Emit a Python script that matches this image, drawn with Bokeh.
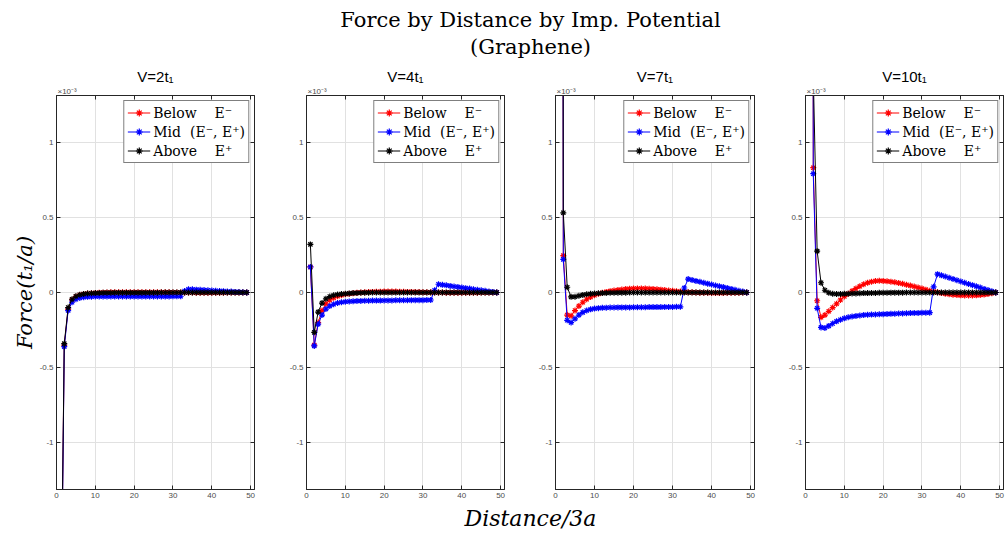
import math
from bokeh.plotting import figure
from bokeh.models import Range1d, Label, Legend, LegendItem, LinearAxis, FixedTicker, Title
from bokeh.layouts import column, row
from bokeh.embed import file_html
from bokeh.resources import INLINE

# ---------------- data (force values in units of 1e-3 t1/a) ----------------
distance = [1, 2, 3, 4, 5, 6, 7, 8, 9, 10,
            11, 12, 13, 14, 15, 16, 17, 18, 19, 20,
            21, 22, 23, 24, 25, 26, 27, 28, 29, 30,
            31, 32, 33, 34, 35, 36, 37, 38, 39, 40,
            41, 42, 43, 44, 45, 46, 47, 48, 49]

panel_titles = ["V=2t\u2081", "V=4t\u2081", "V=7t\u2081", "V=10t\u2081"]
series_labels = ["Below    E\u207b", "Mid  (E\u207b, E\u207a)", "Above    E\u207a"]
x_ticks = [0, 10, 20, 30, 40, 50]
y_ticks = [-1, -0.5, 0, 0.5, 1]
y_tick_labels = ["-1", "-0.5", "0", "0.5", "1"]

below_v2 = [-2.60, -0.350, -0.110, -0.050, -0.028, -0.017, -0.011, -0.007, -0.005, -0.003,
            -0.002, -0.001, 0.000, 0.001, 0.001, 0.002, 0.002, 0.002, 0.002, 0.002,
            0.002, 0.002, 0.002, 0.001, 0.001, 0.001, 0.001, 0.001, 0.001, 0.000,
            0.000, 0.000, 0.000, 0.000, 0.000, -0.001, -0.001, -0.001, -0.001, -0.001,
            -0.001, -0.001, -0.001, 0.000, 0.000, 0.000, 0.000, 0.000, 0.000]
mid_v2 = [-2.70, -0.360, -0.120, -0.065, -0.045, -0.036, -0.031, -0.029, -0.028, -0.027,
          -0.027, -0.026, -0.026, -0.026, -0.026, -0.026, -0.026, -0.026, -0.026, -0.026,
          -0.026, -0.026, -0.026, -0.026, -0.026, -0.026, -0.026, -0.026, -0.026, -0.025,
          -0.025, -0.025, 0.010, 0.022, 0.021, 0.019, 0.018, 0.016, 0.015, 0.013,
          0.012, 0.010, 0.009, 0.007, 0.006, 0.004, 0.003, 0.001, 0.000]
above_v2 = [-2.55, -0.340, -0.100, -0.045, -0.025, -0.015, -0.010, -0.007, -0.005, -0.004,
            -0.003, -0.002, -0.002, -0.002, -0.001, -0.001, -0.001, -0.001, -0.001, -0.001,
            -0.001, -0.001, -0.001, -0.001, -0.001, -0.001, 0.000, 0.000, 0.000, 0.000,
            0.000, 0.000, 0.000, 0.000, 0.000, 0.000, 0.000, 0.000, 0.000, 0.000,
            0.000, 0.000, 0.000, 0.000, 0.000, 0.000, 0.000, 0.000, 0.000]

below_v4 = [0.170, -0.350, -0.200, -0.120, -0.075, -0.050, -0.035, -0.025, -0.018, -0.012,
            -0.008, -0.005, -0.002, 0.000, 0.002, 0.003, 0.004, 0.005, 0.005, 0.006,
            0.006, 0.006, 0.006, 0.005, 0.005, 0.004, 0.004, 0.003, 0.003, 0.002,
            0.002, 0.001, 0.001, 0.000, 0.000, -0.001, -0.001, -0.001, -0.001, -0.001,
            -0.001, -0.001, -0.001, -0.001, 0.000, 0.000, 0.000, 0.000, 0.000]
mid_v4 = [0.170, -0.355, -0.210, -0.150, -0.110, -0.090, -0.078, -0.070, -0.065, -0.062,
          -0.060, -0.058, -0.057, -0.056, -0.055, -0.055, -0.054, -0.054, -0.054, -0.053,
          -0.053, -0.053, -0.052, -0.052, -0.052, -0.052, -0.051, -0.051, -0.051, -0.051,
          -0.050, -0.050, 0.015, 0.055, 0.051, 0.048, 0.044, 0.040, 0.037, 0.033,
          0.029, 0.026, 0.022, 0.018, 0.015, 0.011, 0.007, 0.004, 0.000]
above_v4 = [0.320, -0.265, -0.130, -0.070, -0.042, -0.027, -0.018, -0.013, -0.010, -0.008,
            -0.006, -0.004, -0.003, -0.002, -0.001, -0.001, 0.000, 0.000, 0.000, 0.000,
            0.000, 0.000, 0.000, 0.000, 0.000, 0.000, 0.000, 0.000, 0.000, 0.000,
            0.000, 0.000, 0.000, 0.000, 0.000, 0.000, 0.000, 0.000, 0.000, 0.000,
            0.000, 0.000, 0.000, 0.000, 0.000, 0.000, 0.000, 0.000, 0.000]

below_v7 = [25.0, 0.245, -0.150, -0.155, -0.120, -0.090, -0.065, -0.045, -0.030, -0.018,
            -0.009, -0.002, 0.004, 0.009, 0.013, 0.017, 0.020, 0.023, 0.025, 0.026,
            0.027, 0.027, 0.026, 0.025, 0.023, 0.021, 0.019, 0.016, 0.013, 0.011,
            0.008, 0.006, 0.004, 0.002, 0.001, 0.000, -0.001, -0.002, -0.002, -0.003,
            -0.003, -0.003, -0.003, -0.002, -0.002, -0.001, -0.001, 0.000, 0.000]
mid_v7 = [25.0, 0.220, -0.185, -0.200, -0.175, -0.150, -0.132, -0.120, -0.112, -0.107,
          -0.104, -0.102, -0.101, -0.100, -0.100, -0.099, -0.099, -0.099, -0.099, -0.098,
          -0.098, -0.098, -0.098, -0.097, -0.097, -0.097, -0.097, -0.096, -0.096, -0.096,
          -0.095, -0.095, 0.030, 0.089, 0.083, 0.077, 0.071, 0.065, 0.059, 0.053,
          0.047, 0.042, 0.036, 0.030, 0.024, 0.018, 0.012, 0.006, 0.000]
above_v7 = [28.0, 0.530, 0.035, -0.029, -0.028, -0.022, -0.016, -0.012, -0.009, -0.007,
            -0.005, -0.004, -0.003, -0.002, -0.002, -0.001, -0.001, -0.001, 0.000, 0.000,
            0.000, 0.000, 0.000, 0.000, 0.000, 0.000, 0.000, 0.000, 0.000, 0.000,
            0.000, 0.000, 0.000, 0.000, 0.000, 0.000, 0.000, 0.000, 0.000, 0.000,
            0.000, 0.000, 0.000, 0.000, 0.000, 0.000, 0.000, 0.000, 0.000]

below_v10 = [30.0, 0.830, -0.055, -0.165, -0.150, -0.125, -0.100, -0.075, -0.050, -0.027,
             -0.008, 0.010, 0.027, 0.042, 0.055, 0.065, 0.072, 0.076, 0.078, 0.077,
             0.075, 0.072, 0.068, 0.063, 0.058, 0.052, 0.046, 0.040, 0.033, 0.026,
             0.019, 0.012, 0.006, 0.001, -0.004, -0.008, -0.012, -0.015, -0.017, -0.019,
             -0.020, -0.020, -0.020, -0.019, -0.017, -0.014, -0.010, -0.005, 0.000]
mid_v10 = [30.0, 0.790, -0.105, -0.232, -0.236, -0.222, -0.206, -0.192, -0.181, -0.172,
           -0.165, -0.160, -0.156, -0.153, -0.150, -0.148, -0.147, -0.146, -0.145, -0.144,
           -0.143, -0.142, -0.141, -0.140, -0.139, -0.138, -0.137, -0.136, -0.136, -0.135,
           -0.135, -0.134, 0.038, 0.122, 0.114, 0.106, 0.098, 0.090, 0.081, 0.073,
           0.065, 0.057, 0.049, 0.041, 0.033, 0.024, 0.016, 0.008, 0.000]
above_v10 = [32.0, 1.450, 0.275, 0.065, 0.015, -0.002, -0.008, -0.010, -0.010, -0.009,
             -0.008, -0.007, -0.006, -0.005, -0.004, -0.004, -0.003, -0.003, -0.002, -0.002,
             -0.002, -0.001, -0.001, -0.001, -0.001, 0.000, 0.000, 0.000, 0.000, 0.000,
             0.000, 0.000, 0.000, 0.000, 0.000, 0.000, 0.000, 0.000, 0.000, 0.000,
             0.000, 0.000, 0.000, 0.000, 0.000, 0.000, 0.000, 0.000, 0.000]

panels_data = [
    (below_v2, mid_v2, above_v2),
    (below_v4, mid_v4, above_v4),
    (below_v7, mid_v7, above_v7),
    (below_v10, mid_v10, above_v10),
]
series_colors = ["#ff0000", "#0000ff", "#000000"]

AX = "#262626"
TICK_LABEL = "#4d4d4d"
GRID = "#e1e1e1"
SERIF = "DejaVu Serif"
SANS = "Liberation Sans"
YMAX = 1.31

# frame geometry: (left border, frame width, right border)
geoms = [(56, 198, 27), (25, 198, 26), (25, 199, 26), (25, 198, 3)]


def style_axis(ax, labels=True):
    ax.axis_line_color = AX
    ax.major_tick_line_color = AX
    ax.major_tick_in = 4
    ax.major_tick_out = 0
    ax.minor_tick_line_color = None
    ax.major_label_text_font = SANS
    if labels:
        ax.major_label_text_color = TICK_LABEL
        ax.major_label_text_font_size = "8px"
        ax.major_label_standoff = 3
    else:
        ax.major_label_text_color = None
        ax.major_label_text_font_size = "1px"
        ax.major_label_standoff = 0


def make_panel(idx):
    lb, fw, rb = geoms[idx]
    p = figure(frame_width=fw, frame_height=394,
               min_border_left=lb, min_border_right=rb,
               min_border_top=35, min_border_bottom=16,
               x_range=Range1d(0, 51), y_range=Range1d(-YMAX, YMAX),
               output_backend="svg", toolbar_location=None, tools="")
    p.outline_line_color = AX
    p.outline_line_width = 1
    p.background_fill_color = "white"
    p.border_fill_color = "white"

    bottom_ax = p.below[0]
    left_ax = p.left[0]
    bottom_ax.ticker = FixedTicker(ticks=x_ticks)
    left_ax.ticker = FixedTicker(ticks=y_ticks)
    left_ax.major_label_overrides = {t: s for t, s in zip(y_ticks, y_tick_labels)}
    style_axis(bottom_ax)
    style_axis(left_ax)

    if idx == 0:
        left_ax.axis_label = "Force(t\u2081/a)"
        left_ax.axis_label_text_font = SERIF
        left_ax.axis_label_text_font_style = "italic"
        left_ax.axis_label_text_font_size = "21px"
        left_ax.axis_label_text_color = "#000000"
        left_ax.axis_label_standoff = 0

    # mirrored tick marks on top and right (box on)
    top_ax = LinearAxis(ticker=FixedTicker(ticks=x_ticks))
    style_axis(top_ax, labels=False)
    p.add_layout(top_ax, "above")
    right_ax = LinearAxis(ticker=FixedTicker(ticks=y_ticks))
    style_axis(right_ax, labels=False)
    p.add_layout(right_ax, "right")

    p.xgrid.grid_line_color = GRID
    p.ygrid.grid_line_color = GRID

    items = []
    for ys, col, lab in zip(panels_data[idx], series_colors, series_labels):
        r = p.line(distance, ys, line_color=col, line_width=1)
        s = p.scatter(distance, ys, marker="asterisk", size=6,
                      line_color=col, line_width=1.2)
        items.append(LegendItem(label=lab, renderers=[r, s]))

    legend = Legend(items=items, location="top_right", margin=5,
                    padding=3, spacing=2, label_height=17, glyph_height=17,
                    glyph_width=23, label_standoff=3,
                    label_text_font=SERIF, label_text_font_size="14px",
                    label_text_color="#000000",
                    border_line_color="#000000", border_line_width=1,
                    background_fill_color="white", background_fill_alpha=1)
    p.add_layout(legend)

    # exponent marker just above the frame (closest to frame), then panel title
    p.add_layout(Title(text="\u00d710\u207b\u00b3", align="left",
                       text_font=SANS, text_font_size="8px",
                       text_font_style="normal", text_color=TICK_LABEL,
                       standoff=0, offset=1), "above")
    p.add_layout(Title(text=panel_titles[idx], align="center",
                       text_font=SANS, text_font_size="15px",
                       text_font_style="normal", text_color="#000000",
                       standoff=0), "above")
    return p


panels = [make_panel(i) for i in range(4)]

# top title strip
top_fig = figure(width=1006, height=60, x_range=Range1d(0, 1006), y_range=Range1d(60, 0),
                 output_backend="svg", toolbar_location=None, tools="",
                 min_border=0)
top_fig.axis.visible = False
top_fig.grid.visible = False
top_fig.outline_line_color = None
top_fig.add_layout(Label(x=530, y=19, text="Force by Distance by Imp. Potential",
                         text_align="center", text_baseline="middle",
                         text_font=SERIF, text_font_size="21px", text_color="#000000"))
top_fig.add_layout(Label(x=530, y=46, text="(Graphene)",
                         text_align="center", text_baseline="middle",
                         text_font=SERIF, text_font_size="21px", text_color="#000000"))

# bottom x-label strip
bot_fig = figure(width=1006, height=29, x_range=Range1d(0, 1006), y_range=Range1d(29, 0),
                 output_backend="svg", toolbar_location=None, tools="",
                 min_border=0)
bot_fig.axis.visible = False
bot_fig.grid.visible = False
bot_fig.outline_line_color = None
bot_fig.add_layout(Label(x=530, y=13, text="Distance/3a",
                         text_align="center", text_baseline="middle",
                         text_font=SERIF, text_font_style="italic",
                         text_font_size="22px", text_color="#000000"))

layout = column(top_fig, row(*panels, spacing=0), bot_fig, spacing=0)

open("out.html", "w").write(file_html(layout, INLINE))
